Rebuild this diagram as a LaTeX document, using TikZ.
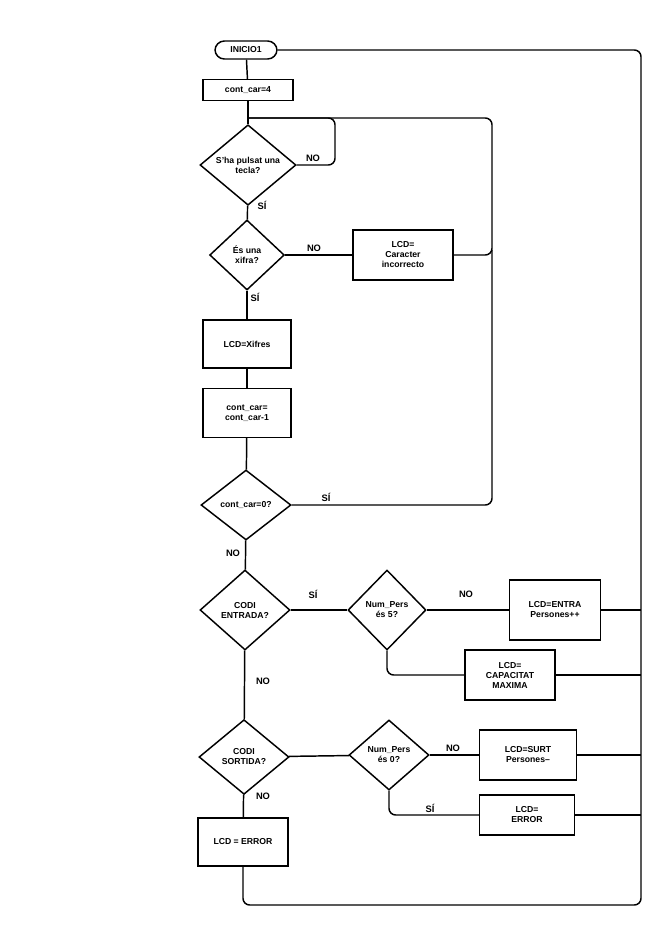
\documentclass[tikz,border=0pt]{standalone}
\usepackage{fontspec}
\setmainfont{Liberation Sans}
\usetikzlibrary{shapes.geometric}
\tikzset{
  caixa/.style={draw, line width=1.1pt, align=center, font=\fontsize{6.5}{7.5}\selectfont\bfseries, inner sep=1pt},
  decisio/.style={draw, diamond, line width=1.1pt, align=center, font=\fontsize{6.5}{7.5}\selectfont\bfseries, inner sep=0pt},
  etiq/.style={font=\fontsize{7}{8}\selectfont\bfseries},
  fil/.style={line width=1.1pt, rounded corners=5pt}
}
\begin{document}
\begin{tikzpicture}[x=0.75pt,y=-0.75pt]
\useasboundingbox (0,0) rectangle (666,929);
% caixes
\node[caixa, rounded corners=7pt, minimum width=46.5pt, minimum height=13.5pt] (inici) at (246,50) {INICIO1};
\node[caixa, minimum width=67.5pt, minimum height=15.5pt] (cont) at (248,90) {cont\_car=4};
\node[decisio, minimum width=72pt, minimum height=52.5pt] (tecla) at (248,165) {S'ha pulsat una\\tecla?};
\node[decisio, minimum width=56pt, minimum height=52.5pt] (xifra) at (247,255) {És una\\xifra?};
\node[caixa, minimum width=75pt, minimum height=37.5pt] (incorr) at (403,255) {LCD=\\Caracter\\incorrecto};
\node[caixa, minimum width=66pt, minimum height=36pt] (xifres) at (247,344) {LCD=Xifres};
\node[caixa, minimum width=66pt, minimum height=36.5pt] (resta) at (247,413) {cont\_car=\\cont\_car-1};
\node[decisio, minimum width=67.5pt, minimum height=52.5pt] (zero) at (246,505) {cont\_car=0?};
\node[decisio, minimum width=67.5pt, minimum height=60pt] (entr) at (245,610) {CODI\\ENTRADA?};
\node[decisio, minimum width=58.5pt, minimum height=60pt] (np5) at (387,610) {Num\_Pers\\és 5?};
\node[caixa, minimum width=68pt, minimum height=45pt] (entra) at (555,610) {LCD=ENTRA\\Persones++};
\node[caixa, minimum width=67.5pt, minimum height=37.5pt] (capac) at (510,675) {LCD=\\CAPACITAT\\MAXIMA};
\node[decisio, minimum width=67.5pt, minimum height=56pt] (sort) at (244,757) {CODI\\SORTIDA?};
\node[decisio, minimum width=60pt, minimum height=52.5pt] (np0) at (389,755) {Num\_Pers\\és 0?};
\node[caixa, minimum width=72.5pt, minimum height=37.5pt] (surt) at (528,755) {LCD=SURT\\Persones--};
\node[caixa, minimum width=71pt, minimum height=30pt] (err2) at (527,815) {LCD=\\ERROR};
\node[caixa, minimum width=67.5pt, minimum height=36pt] (err1) at (243,842) {LCD = ERROR};
% punts
\coordinate (bucle) at (248,118);
% connexions
\draw[fil] (inici) -- (cont);
\draw[fil] (cont) -- (tecla);
\draw[fil] (tecla.east) -| (335,118) -- (bucle);
\draw[fil] (tecla) -- (xifra);
\draw[fil] (xifra) -- (incorr);
\draw[fil] (incorr.east) -| (492,118) -- (bucle);
\draw[fil] (zero.east) -| (492,250);
\draw[fil] (xifra) -- (xifres);
\draw[fil] (xifres) -- (resta);
\draw[fil] (resta) -- (zero);
\draw[fil] (zero) -- (entr);
\draw[fil] (entr) -- (np5);
\draw[fil] (np5) -- (entra);
\draw[fil] (np5.south) |- (capac.west);
\draw[fil] (entr) -- (sort);
\draw[fil] (sort) -- (np0);
\draw[fil] (np0) -- (surt);
\draw[fil] (np0.south) |- (err2.west);
\draw[fil] (sort) -- (err1);
\draw[fil] (err1.south) |- (641,905) |- (inici.east);
\draw[fil] (entra.east) -- (641,610);
\draw[fil] (capac.east) -- (641,675);
\draw[fil] (surt.east) -- (641,755);
\draw[fil] (err2.east) -- (641,815);
% etiquetes
\node[etiq] at (313,158) {NO};
\node[etiq] at (262,205) {SÍ};
\node[etiq] at (314,248) {NO};
\node[etiq] at (255,297) {SÍ};
\node[etiq] at (326,497) {SÍ};
\node[etiq] at (233,553) {NO};
\node[etiq] at (313,594) {SÍ};
\node[etiq] at (466,594) {NO};
\node[etiq] at (263,681) {NO};
\node[etiq] at (453,748) {NO};
\node[etiq] at (430,808) {SÍ};
\node[etiq] at (263,796) {NO};
\end{tikzpicture}
\end{document}
